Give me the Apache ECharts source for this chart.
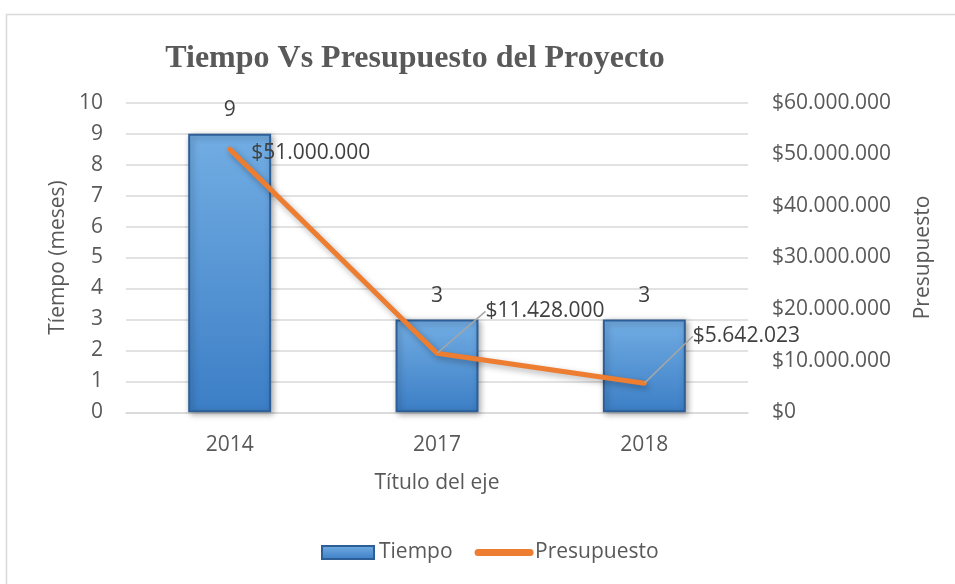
<!DOCTYPE html>
<html>
<head>
<meta charset="utf-8">
<script src="https://cdn.jsdelivr.net/npm/echarts@6/dist/echarts.min.js"></script>
<style>
html,body{margin:0;padding:0;background:#fff;}
#c{width:955px;height:584px;}
</style>
</head>
<body>
<div id="c"></div>
<script>
const categories = ['2014', '2017', '2018'];
const tiempo = [9, 3, 3];
const presupuesto = [51000000, 11428000, 5642023];
const leftTicks = { min: 0, max: 10, interval: 1 };
const rightTicks = { min: 0, max: 60000000, interval: 10000000 };

function money(v) {
  return '$' + String(Math.round(v)).replace(/\B(?=(\d{3})+(?!\d))/g, '.');
}

const FONT = '"Open Sans", "Noto Sans", sans-serif';
const FS = 21;
const AX = '#595959';
const chart = echarts.init(document.getElementById('c'), null, { renderer: 'canvas' });

const labelOffsets = [[-2, 4], [25, -42], [25, -47]];

chart.setOption({
  animation: false,
  backgroundColor: '#ffffff',
  graphic: [{
    type: 'rect', left: 4, top: 12, silent: true,
    shape: { width: 1000, height: 1000 },
    style: { fill: 'none', stroke: '#d9d9d9', lineWidth: 1.5 }
  }],
  title: {
    text: 'Tiempo Vs Presupuesto del Proyecto',
    left: 410, top: 38, textAlign: 'center',
    textStyle: { fontFamily: '"Liberation Serif", "DejaVu Serif", serif', fontWeight: 'bold', fontSize: 32, color: AX }
  },
  legend: {
    left: 316, top: 537,
    itemWidth: 52, itemHeight: 13, itemGap: 22,
    textStyle: { fontFamily: FONT, fontSize: FS, color: AX },
    data: [
      { name: 'Tiempo', icon: 'rect' },
      { name: 'Presupuesto', itemStyle: { opacity: 0 },
        lineStyle: { width: 7, cap: 'round', color: '#ED7D31', opacity: 1 } }
    ]
  },
  grid: { left: 126, right: 207, top: 102.7, bottom: 171.7 },
  xAxis: {
    type: 'category', data: categories,
    name: 'Título del eje', nameLocation: 'middle', nameGap: 60,
    nameTextStyle: { fontFamily: FONT, fontSize: FS, color: AX },
    axisLine: { lineStyle: { color: '#d9d9d9', width: 1.5 } },
    axisTick: { show: false },
    axisLabel: { fontFamily: FONT, fontSize: FS, color: AX, margin: 22 }
  },
  yAxis: [{
    type: 'value', min: leftTicks.min, max: leftTicks.max, interval: leftTicks.interval,
    name: 'Tíempo (meses)', nameLocation: 'middle', nameGap: 56,
    nameTextStyle: { fontFamily: FONT, fontSize: FS, color: AX },
    axisLine: { show: false }, axisTick: { show: false },
    axisLabel: { fontFamily: FONT, fontSize: FS, color: AX, margin: 23 },
    splitLine: { lineStyle: { color: '#d9d9d9', width: 1.5 } }
  }, {
    type: 'value', min: rightTicks.min, max: rightTicks.max, interval: rightTicks.interval,
    name: 'Presupuesto', nameLocation: 'middle', nameGap: 165,
    nameTextStyle: { fontFamily: FONT, fontSize: FS, color: AX },
    axisLine: { show: false }, axisTick: { show: false },
    axisLabel: { fontFamily: FONT, fontSize: FS, color: AX, margin: 24, formatter: money },
    splitLine: { show: false }
  }],
  series: [{
    name: 'Tiempo', type: 'bar', data: tiempo, barWidth: '40%', yAxisIndex: 0,
    itemStyle: {
      color: new echarts.graphic.LinearGradient(0, 0, 0, 1, [
        { offset: 0, color: '#72ade3' },
        { offset: 1, color: '#3c7ec6' }
      ]),
      borderColor: '#2d5f96', borderWidth: 2,
      shadowColor: 'rgba(0,0,0,0.35)', shadowBlur: 6, shadowOffsetX: 2, shadowOffsetY: 2
    },
    label: { show: true, position: 'top', distance: 13, fontFamily: FONT, fontSize: FS, color: '#404040' }
  }, {
    name: 'Presupuesto', type: 'line', yAxisIndex: 1,
    data: presupuesto.map((v, i) => ({ value: v, labelLine: { show: i > 0 } })),
    symbol: 'circle', symbolSize: 1, showSymbol: true,
    itemStyle: { color: '#ED7D31' },
    lineStyle: { color: '#ED7D31', width: 5, cap: 'round', join: 'round',
      shadowColor: 'rgba(0,0,0,0.3)', shadowBlur: 6, shadowOffsetX: 2, shadowOffsetY: 3 },
    label: { show: true, position: 'right', distance: 23, fontFamily: FONT, fontSize: FS, color: '#404040',
      formatter: p => money(p.value) },
    labelLine: { show: true, lineStyle: { color: '#a6a6a6', width: 1.5 } },
    labelLayout: function (p) {
      const o = labelOffsets[p.dataIndex] || [0, 0];
      return { dx: o[0], dy: o[1] };
    },
    z: 3
  }]
});
</script>
</body>
</html>
